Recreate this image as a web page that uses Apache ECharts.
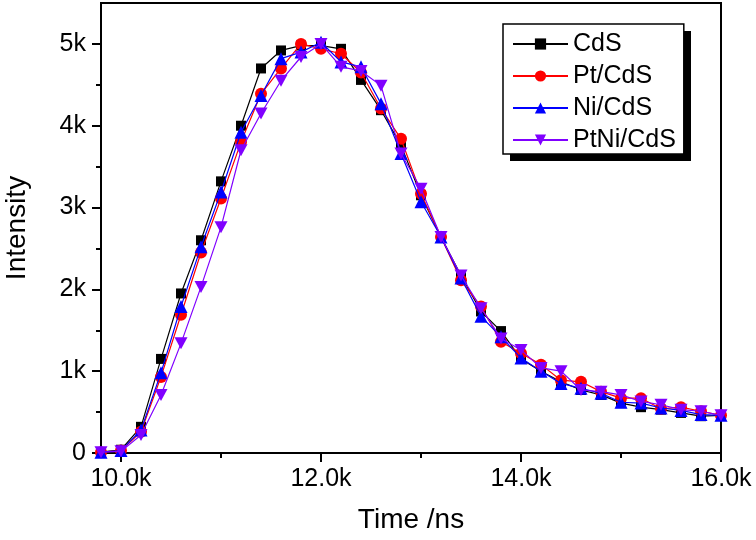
<!DOCTYPE html>
<html><head><meta charset="utf-8">
<script src="https://cdn.jsdelivr.net/npm/echarts@6/dist/echarts.min.js"></script>
<style>html,body{margin:0;padding:0;background:#fff}#c{width:756px;height:540px}</style>
</head><body><div id="c"></div>
<script>
const timeNs = [9800, 10000, 10200, 10400, 10600, 10800, 11000, 11200, 11400, 11600, 11800, 12000,
  12200, 12400, 12600, 12800, 13000, 13200, 13400, 13600, 13800, 14000, 14200, 14400,
  14600, 14800, 15000, 15200, 15400, 15600, 15800, 16000];
const cds = [10, 40, 320, 1150, 1950, 2600, 3320, 4000, 4700, 4920, 4980, 4980,
  4940, 4560, 4190, 3760, 3150, 2640, 2170, 1730, 1490, 1150, 1000, 870,
  770, 710, 610, 560, 530, 490, 450, 460];
const ptCds = [10, 30, 260, 930, 1690, 2450, 3110, 3800, 4390, 4700, 5000, 4940,
  4880, 4650, 4210, 3840, 3170, 2640, 2110, 1790, 1360, 1220, 1080, 890,
  870, 750, 670, 670, 540, 560, 510, 460];
const niCds = [10, 30, 280, 980, 1790, 2520, 3190, 3920, 4370, 4820, 4900, 5020,
  4780, 4720, 4270, 3660, 3070, 2640, 2140, 1670, 1420, 1160, 1000, 850,
  790, 730, 620, 610, 550, 520, 470, 460];
const ptNiCds = [10, 20, 220, 710, 1340, 2030, 2760, 3700, 4150, 4550, 4840, 5000,
  4720, 4670, 4490, 3660, 3230, 2640, 2170, 1770, 1400, 1260, 1040, 1000,
  770, 750, 710, 630, 590, 530, 510, 460];
const seriesNames = ['CdS', 'Pt/CdS', 'Ni/CdS', 'PtNi/CdS'];
const xMajorTicks = [10000, 12000, 14000, 16000];
const xMinorTicks = [11000, 13000, 15000];
const yMajorTicks = [0, 1000, 2000, 3000, 4000, 5000];
const yMinorTicks = [500, 1500, 2500, 3500, 4500];

const FONT = "'Liberation Sans', Arial, sans-serif";
const colors = ['#000000', '#ff0000', '#0000ff', '#8000ff'];
const symbols = ['rect', 'circle', 'triangle', 'path://M0,0 L10,0 L5,9 Z'];
const sizes = [10, 12, 13, [13, 12]];
const allData = [cds, ptCds, niCds, ptNiCds];

const chart = echarts.init(document.getElementById('c'), null, {renderer: 'canvas'});
const axisLineStyle = {color: '#000', width: 2};
chart.setOption({
  animation: false,
  backgroundColor: '#fff',
  grid: {left: 101, right: 35, top: 3, bottom: 87, containLabel: false, outerBoundsMode: 'none',
    show: true, borderColor: '#000', borderWidth: 2, backgroundColor: 'transparent'},
  graphic: [{
    type: 'rect', left: 510, top: 31, z: 3,
    shape: {width: 181, height: 130},
    style: {fill: '#000'}
  }],
  legend: {
    orient: 'vertical', left: 503, top: 24, z: 10,
    data: seriesNames,
    backgroundColor: '#fff', borderColor: '#000', borderWidth: 1.5,
    padding: [7, 8, 1, 9],
    itemWidth: 55, itemHeight: 14, itemGap: 6,
    textStyle: {fontFamily: FONT, fontSize: 25, color: '#000', lineHeight: 26}
  },
  xAxis: [{
    type: 'value', min: 9800, max: 16000,
    name: 'Time /ns', nameLocation: 'middle', nameGap: 53,
    nameTextStyle: {fontFamily: FONT, fontSize: 28, color: '#000'},
    axisLine: {lineStyle: axisLineStyle},
    axisTick: {show: true, length: 9, lineStyle: {color: '#000', width: 2}, customValues: xMajorTicks},
    axisLabel: {customValues: xMajorTicks, margin: 14, fontFamily: FONT, fontSize: 25, color: '#000',
      formatter: v => (v / 1000).toFixed(1) + 'k'},
    splitLine: {show: false}
  }, {
    type: 'value', min: 9800, max: 16000, position: 'bottom', offset: 0,
    axisLine: {show: false},
    axisTick: {show: true, length: 5, lineStyle: {color: '#000', width: 2}, customValues: xMinorTicks},
    axisLabel: {show: false}, splitLine: {show: false}
  }],
  yAxis: [{
    type: 'value', min: 0, max: 5500,
    name: 'Intensity', nameLocation: 'middle', nameGap: 70,
    nameTextStyle: {fontFamily: FONT, fontSize: 28, color: '#000'},
    axisLine: {show: true, lineStyle: axisLineStyle},
    axisTick: {show: true, length: 9, lineStyle: {color: '#000', width: 2}, customValues: yMajorTicks},
    axisLabel: {customValues: yMajorTicks, margin: 15, fontFamily: FONT, fontSize: 25, color: '#000',
      formatter: v => v === 0 ? '0' : (v / 1000) + 'k'},
    splitLine: {show: false}
  }, {
    type: 'value', min: 0, max: 5500, position: 'left', offset: 0,
    axisLine: {show: false},
    axisTick: {show: true, length: 5, lineStyle: {color: '#000', width: 2}, customValues: yMinorTicks},
    axisLabel: {show: false}, splitLine: {show: false}
  }],
  series: seriesNames.map((name, k) => ({
    name: name, type: 'line', xAxisIndex: 0, yAxisIndex: 0,
    data: timeNs.map((t, i) => [t, allData[k][i]]),
    symbol: symbols[k], symbolSize: sizes[k],
    showAllSymbol: true,
    lineStyle: {color: colors[k], width: 1.2},
    itemStyle: {color: colors[k], borderWidth: 0},
    z: 2 + k
  }))
});
</script></body></html>
